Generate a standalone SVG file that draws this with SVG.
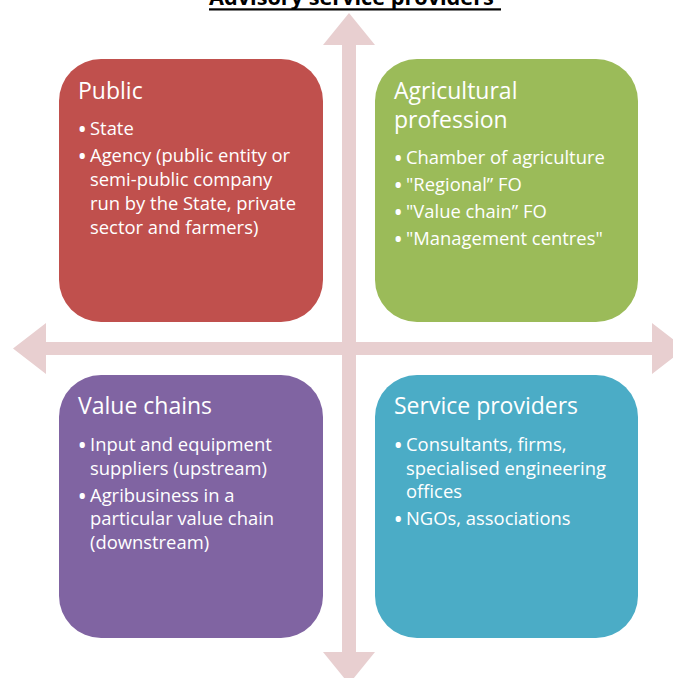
<svg xmlns="http://www.w3.org/2000/svg" width="673" height="678" viewBox="0 0 673 678">
  <style>
    .box { stroke: none; }
    .head { font-family: "Open Sans", "Noto Sans", sans-serif; font-size: 23px; fill: #ffffff; }
    .item { font-family: "Open Sans", "Noto Sans", sans-serif; font-size: 18.4px; fill: #ffffff; }
    .dot { font-size: 25px; }
    .title { font-family: "Open Sans", "Noto Sans", sans-serif; font-size: 21.7px; font-weight: bold; fill: #000000; }
    .arrow { fill: #E8CFD0; }
  </style>

  <!-- heading, partly above the top edge -->
  <g id="title">
    <text class="title" x="209" y="5">Advisory service providers</text>
    <rect x="209" y="8.3" width="292" height="2.2" fill="#000000"/>
  </g>

  <!-- cross of double-headed arrows behind the quadrants -->
  <g id="connectors">
    <polygon class="arrow" points="349,13 375,45 356,45 356,652 375,652 349,684 323,652 342,652 342,45 323,45"/>
    <polygon class="arrow" points="13,348.5 46,323 46,342 652,342 652,323 685,348.5 652,374 652,355 46,355 46,374"/>
  </g>

  <g id="public">
    <rect class="box" x="59" y="59" width="264" height="263" rx="42" ry="42" fill="#C0504D"/>
    <text class="head" x="78" y="99">Public</text>
    <text class="item" y="135"><tspan class="dot" x="77.5" dy="2.5">•</tspan><tspan x="90" dy="-2.5">State</tspan></text>
    <text class="item" y="162"><tspan class="dot" x="77.5" dy="2.5">•</tspan><tspan x="90" dy="-2.5">Agency (public entity or</tspan></text>
    <text class="item" x="90" y="186">semi-public company</text>
    <text class="item" x="90" y="210">run by the State, private</text>
    <text class="item" x="90" y="234">sector and farmers)</text>
  </g>

  <g id="agricultural-profession">
    <rect class="box" x="375" y="59" width="263" height="263" rx="42" ry="42" fill="#9BBB59"/>
    <text class="head" x="394" y="99">Agricultural</text>
    <text class="head" x="394" y="128">profession</text>
    <text class="item" y="164"><tspan class="dot" x="393.5" dy="2.5">•</tspan><tspan x="406" dy="-2.5">Chamber of agriculture</tspan></text>
    <text class="item" y="191"><tspan class="dot" x="393.5" dy="2.5">•</tspan><tspan x="406" dy="-2.5">"Regional” FO</tspan></text>
    <text class="item" y="218"><tspan class="dot" x="393.5" dy="2.5">•</tspan><tspan x="406" dy="-2.5">"Value chain” FO</tspan></text>
    <text class="item" y="245"><tspan class="dot" x="393.5" dy="2.5">•</tspan><tspan x="406" dy="-2.5">"Management centres"</tspan></text>
  </g>

  <g id="value-chains">
    <rect class="box" x="59" y="375" width="264" height="263" rx="42" ry="42" fill="#8064A2"/>
    <text class="head" x="78" y="414">Value chains</text>
    <text class="item" y="451"><tspan class="dot" x="77.5" dy="2.5">•</tspan><tspan x="90" dy="-2.5">Input and equipment</tspan></text>
    <text class="item" x="90" y="475">suppliers (upstream)</text>
    <text class="item" y="502"><tspan class="dot" x="77.5" dy="2.5">•</tspan><tspan x="90" dy="-2.5">Agribusiness in a</tspan></text>
    <text class="item" x="90" y="525">particular value chain</text>
    <text class="item" x="90" y="549">(downstream)</text>
  </g>

  <g id="service-providers">
    <rect class="box" x="375" y="375" width="263" height="263" rx="42" ry="42" fill="#4BACC6"/>
    <text class="head" x="394" y="414">Service providers</text>
    <text class="item" y="451"><tspan class="dot" x="393.5" dy="2.5">•</tspan><tspan x="406" dy="-2.5">Consultants, firms,</tspan></text>
    <text class="item" x="406" y="475">specialised engineering</text>
    <text class="item" x="406" y="498">offices</text>
    <text class="item" y="525"><tspan class="dot" x="393.5" dy="2.5">•</tspan><tspan x="406" dy="-2.5">NGOs, associations</tspan></text>
  </g>
</svg>
